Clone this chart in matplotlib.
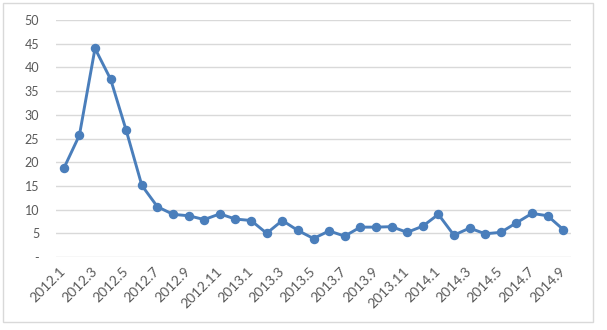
import matplotlib.pyplot as plt
from matplotlib.patches import Rectangle

# monthly values, 2012.1 - 2014.9
meses = [f"{a}.{m}" for a in (2012, 2013) for m in range(1, 13)] + [f"2014.{m}" for m in range(1, 10)]
valores = [18.7, 25.7, 44.0, 37.5, 26.7, 15.1, 10.6, 9.0, 8.7, 7.9, 9.1, 8.0,
           7.7, 5.0, 7.7, 5.6, 3.9, 5.5, 4.4, 6.3, 6.3, 6.4, 5.2, 6.5,
           9.0, 4.6, 6.1, 4.9, 5.2, 7.2, 9.2, 8.7, 5.8]
yticks = [0, 5, 10, 15, 20, 25, 30, 35, 40, 45, 50]
ylabels = ["-"] + [str(v) for v in yticks[1:]]

plt.rcParams['font.family'] = ['Lato', 'DejaVu Sans']
gris = "#595959"

fig = plt.figure(figsize=(6.07, 3.30), dpi=100)
ax = fig.add_axes([56 / 607, 1 - 257 / 330, 515 / 607, 237 / 330])

x = list(range(len(valores)))
ax.plot(x, valores, color="#4A7EBB", linewidth=2.1, marker="o", markersize=5.8)

ax.set_xlim(-0.5, len(valores) - 0.5)
ax.set_ylim(0, 50)
ax.set_yticks(yticks)
ax.set_yticklabels(ylabels)
ax.set_xticks(x[::2])
ax.set_xticklabels(meses[::2], rotation=45, ha="right", va="center", rotation_mode="anchor")
ax.tick_params(axis="both", length=0, colors=gris)
ax.tick_params(axis="y", pad=12, labelsize=9)
ax.tick_params(axis="x", pad=9, labelsize=10)
ax.grid(axis="y", color="#D9D9D9", linewidth=1)
ax.set_axisbelow(True)
for s in ax.spines.values():
    s.set_visible(False)

fig.patches.append(Rectangle((3 / 607, 1 - 322 / 330), 590 / 607, 319 / 330,
                             transform=fig.transFigure, fill=False,
                             edgecolor="#D9D9D9", linewidth=1))

fig.savefig("out.png", dpi=100)
